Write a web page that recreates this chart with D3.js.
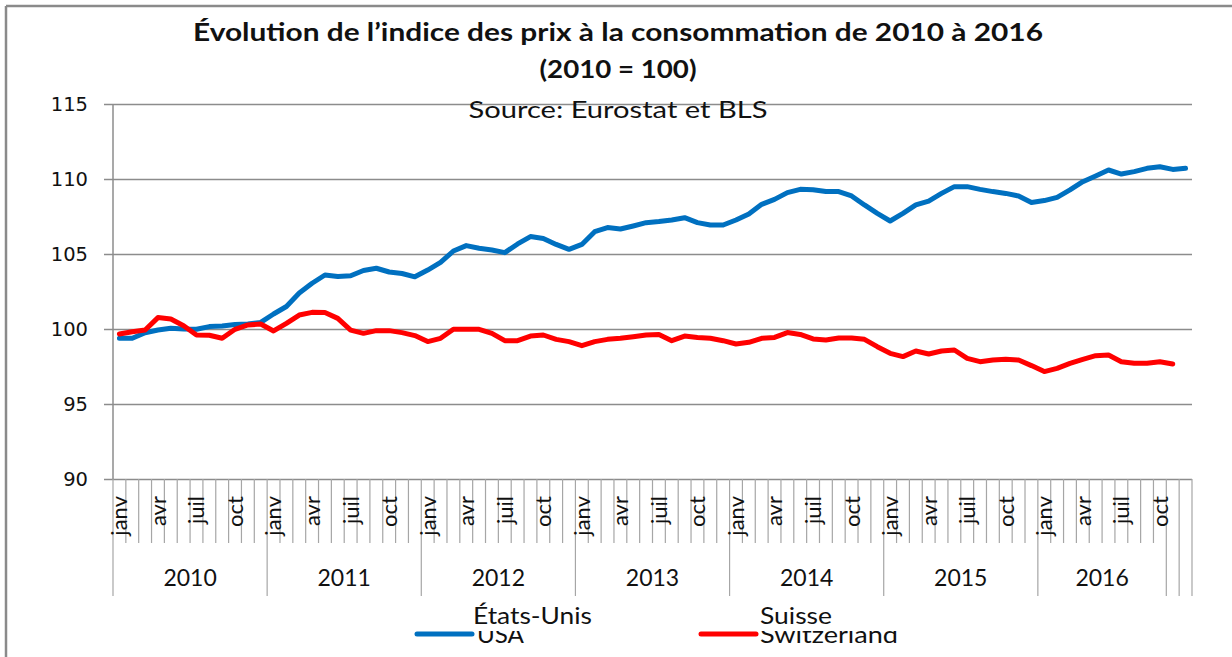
<!DOCTYPE html>
<html>
<head>
<meta charset="utf-8">
<script src="https://cdn.jsdelivr.net/npm/d3@7"></script>
<style>
  html, body { margin: 0; padding: 0; background: #fff; }
  svg { display: block; }
</style>
</head>
<body>
<svg id="chart" width="1232" height="657"></svg>
<script>
// ---------------- DATA ----------------
const monthNames = ["janv","févr","mars","avr","mai","juin","juil","août","sept","oct","nov","déc"];
const groupLabels = ["2010","2011","2012","2013","2014","2015","2016","",""];
const groupSizes  = [12,12,12,12,12,12,10,1,1];
const yTicks = [90, 95, 100, 105, 110, 115];

const usa = [
  99.38, 99.38, 99.75, 99.93, 100.05, 100.0, 99.98, 100.16, 100.2, 100.3, 100.33, 100.44,
  101.0, 101.5, 102.4, 103.05, 103.6, 103.5, 103.55, 103.9, 104.05, 103.8, 103.7, 103.48,
  103.93, 104.44, 105.2, 105.56, 105.38, 105.27, 105.09, 105.67, 106.16, 106.04, 105.64, 105.31,
  105.64, 106.49, 106.76, 106.67, 106.87, 107.09, 107.16, 107.27, 107.42, 107.09, 106.93, 106.93,
  107.27, 107.67, 108.31, 108.64, 109.09, 109.31, 109.28, 109.16, 109.16, 108.87, 108.27, 107.71,
  107.2, 107.71, 108.27, 108.53, 109.04, 109.49, 109.49, 109.31, 109.16, 109.04, 108.87, 108.44,
  108.56, 108.78, 109.27, 109.82, 110.2, 110.6, 110.33, 110.49, 110.71, 110.82, 110.64, 110.71
];
const suisse = [
  99.67, 99.82, 99.93, 100.76, 100.67, 100.22, 99.6, 99.58, 99.38, 99.98, 100.27, 100.33,
  99.87, 100.38, 100.93, 101.11, 101.1, 100.71, 99.93, 99.71, 99.89, 99.89, 99.76, 99.56,
  99.16, 99.38, 99.98, 99.98, 99.98, 99.71, 99.22, 99.22, 99.53, 99.6, 99.31, 99.16,
  98.89, 99.16, 99.31, 99.38, 99.49, 99.6, 99.64, 99.22, 99.53, 99.44, 99.38, 99.22,
  99.0, 99.11, 99.38, 99.44, 99.76, 99.64, 99.34, 99.27, 99.4, 99.4, 99.31, 98.82,
  98.38, 98.16, 98.53, 98.33, 98.53, 98.6, 98.04, 97.82, 97.93, 97.98, 97.93, 97.56,
  97.16, 97.38, 97.71, 97.98, 98.22, 98.27, 97.82, 97.71, 97.71, 97.82, 97.67
];

const seriesNames = ["USA", "Switzerland"];
const seriesLabelsFr = ["États-Unis", "Suisse"];
const seriesColors = ["#0070C0", "#FF0000"];

const titleLine1 = "Évolution de l\u2019indice des prix à la consommation de 2010 à 2016";
const titleLine2 = "(2010 = 100)";
const sourceText = "Source: Eurostat et BLS";

// ---------------- BUILD ----------------
const categories = [];
groupSizes.forEach((n, g) => {
  for (let k = 0; k < n; k++) categories.push({ month: monthNames[(categories.length) % 12], group: g });
});

const svg = d3.select("#chart");
const W = 1232, H = 657;
const plot = { left: 113, right: 1192, top: 104, bottom: 479 };

const x = d3.scaleBand().domain(d3.range(categories.length)).range([plot.left, plot.right]).padding(0);
const y = d3.scaleLinear().domain([90, 115]).range([plot.bottom, plot.top]);
const cx = i => x(i) + x.bandwidth() / 2;

// outer border (top + left)
svg.append("line").attr("x1", 6).attr("y1", 6).attr("x2", W).attr("y2", 6)
  .attr("stroke", "#8a8a8a").attr("stroke-width", 2.5);
svg.append("line").attr("x1", 6).attr("y1", 6).attr("x2", 6).attr("y2", H)
  .attr("stroke", "#8a8a8a").attr("stroke-width", 2.5);

// y axis with gridlines
const yAxis = d3.axisLeft(y).tickValues(yTicks).tickSizeInner(-(plot.right - 104)).tickSizeOuter(0).tickPadding(16);
const gy = svg.append("g").attr("transform", `translate(104,0)`).call(yAxis);
gy.select(".domain").remove();
gy.selectAll(".tick line").attr("stroke", "#8c8c8c").attr("stroke-width", 1.5);
gy.selectAll(".tick text").attr("font-family", "'DejaVu Sans', Verdana, sans-serif")
  .attr("font-size", 19.5).attr("fill", "#111");

// vertical axis line
svg.append("line").attr("x1", plot.left).attr("x2", plot.left)
  .attr("y1", plot.top).attr("y2", plot.bottom)
  .attr("stroke", "#8c8c8c").attr("stroke-width", 1.5);

// category boundaries
const gx = svg.append("g");
const boundaries = d3.range(categories.length + 1);
const groupStarts = new Set();
{ let s = 0; groupSizes.forEach(n => { groupStarts.add(s); s += n; }); groupStarts.add(s); }
gx.selectAll("line.cat").data(boundaries).enter().append("line")
  .attr("x1", i => i < categories.length ? x(i) : plot.right)
  .attr("x2", i => i < categories.length ? x(i) : plot.right)
  .attr("y1", plot.bottom)
  .attr("y2", i => groupStarts.has(i) ? 596 : 543)
  .attr("stroke", "#a6a6a6").attr("stroke-width", 1.2);

// month labels every 3rd category
gx.selectAll("text.month").data(categories.map((c, i) => ({ c, i })).filter(d => d.i % 3 === 0))
  .enter().append("text")
  .attr("transform", d => `translate(${cx(d.i)},496) rotate(-90)`)
  .attr("text-anchor", "end").attr("dy", "0.36em")
  .attr("font-family", "Lato, 'Open Sans', sans-serif").attr("font-size", 22)
  .attr("fill", "#111")
  .text(d => d.c.month);

// year group labels
{
  let s = 0;
  groupSizes.forEach((n, g) => {
    const mid = (x(s) + (s + n < categories.length ? x(s + n) : plot.right)) / 2;
    if (groupLabels[g]) {
      svg.append("text").attr("x", mid).attr("y", 586).attr("text-anchor", "middle")
        .attr("font-family", "Lato, 'Open Sans', sans-serif").attr("font-size", 23)
        .attr("fill", "#111").text(groupLabels[g]);
    }
    s += n;
  });
}

// lines
const line = d3.line().x((d, i) => cx(i)).y(d => y(d));
[usa, suisse].forEach((data, k) => {
  svg.append("path").datum(data).attr("d", line)
    .attr("fill", "none").attr("stroke", seriesColors[k]).attr("stroke-width", 5)
    .attr("stroke-linejoin", "round").attr("stroke-linecap", "round");
});

// titles
svg.append("text").attr("x", 618).attr("y", 41).attr("text-anchor", "middle")
  .attr("font-family", "Lato, 'Open Sans', sans-serif").attr("font-weight", "bold").attr("font-size", 25)
  .attr("textLength", 850).attr("lengthAdjust", "spacingAndGlyphs")
  .attr("fill", "#111").text(titleLine1);
svg.append("text").attr("x", 618).attr("y", 78).attr("text-anchor", "middle")
  .attr("font-family", "Lato, 'Open Sans', sans-serif").attr("font-weight", "bold").attr("font-size", 25)
  .attr("textLength", 157).attr("lengthAdjust", "spacingAndGlyphs")
  .attr("fill", "#111").text(titleLine2);
svg.append("text").attr("x", 618).attr("y", 118).attr("text-anchor", "middle")
  .attr("font-family", "Lato, 'Open Sans', sans-serif").attr("font-size", 23)
  .attr("textLength", 299).attr("lengthAdjust", "spacingAndGlyphs")
  .attr("fill", "#111").text(sourceText);

// legend (clipped original labels + French labels above)
const defs = svg.append("defs");
defs.append("clipPath").attr("id", "legclip").append("rect")
  .attr("x", 0).attr("y", 631).attr("width", W).attr("height", 40);

const legend = [
  { x1: 417, x2: 472, tx: 477, tw: 47, fx: 473, fw: 119 },
  { x1: 701, x2: 756, tx: 760, tw: 138, fx: 760, fw: 72 }
];
legend.forEach((L, k) => {
  svg.append("line").attr("x1", L.x1).attr("x2", L.x2).attr("y1", 634).attr("y2", 634)
    .attr("stroke", seriesColors[k]).attr("stroke-width", 5).attr("stroke-linecap", "round");
  svg.append("text").attr("x", L.tx).attr("y", 643).attr("clip-path", "url(#legclip)")
    .attr("font-family", "Lato, 'Open Sans', sans-serif").attr("font-size", 24)
    .attr("textLength", L.tw).attr("lengthAdjust", "spacingAndGlyphs")
    .attr("fill", "#111").text(seriesNames[k]);
  svg.append("text").attr("x", L.fx).attr("y", 624)
    .attr("font-family", "Lato, 'Open Sans', sans-serif").attr("font-size", 24)
    .attr("textLength", L.fw).attr("lengthAdjust", "spacingAndGlyphs")
    .attr("fill", "#111").text(seriesLabelsFr[k]);
});
</script>
</body>
</html>
